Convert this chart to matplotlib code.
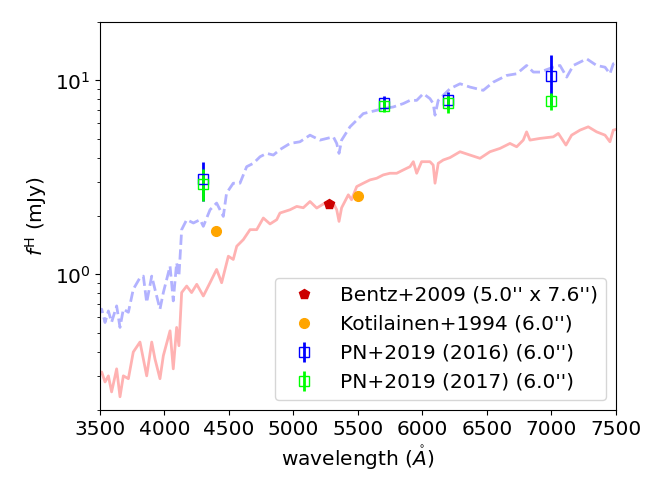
import matplotlib
matplotlib.use("Agg")
import matplotlib.pyplot as plt

# model spectrum, 6.0'' aperture (solid, light red)
red_wave = [3490, 3513, 3539, 3565, 3590, 3629, 3655, 3681, 3720, 3758, 3810, 3862, 3901, 3926,
            3965, 3991, 4043, 4068, 4094, 4112, 4133, 4172, 4210, 4250, 4301, 4353, 4404, 4443,
            4495, 4533, 4560, 4611, 4663, 4715, 4766, 4818, 4870, 4895, 4973, 5025, 5076, 5128,
            5180, 5244, 5309, 5335, 5353, 5373, 5425, 5450, 5490, 5541, 5593, 5645, 5696, 5748,
            5800, 5851, 5903, 5929, 5955, 5993, 6058, 6083, 6097, 6122, 6161, 6213, 6291, 6368,
            6446, 6523, 6601, 6678, 6730, 6781, 6807, 6833, 6911, 7014, 7053, 7112, 7156, 7221,
            7285, 7350, 7415, 7453, 7479, 7510]
red_flux = [0.30, 0.314, 0.279, 0.300, 0.248, 0.326, 0.234, 0.300, 0.290, 0.398, 0.448, 0.300,
            0.448, 0.367, 0.290, 0.381, 0.512, 0.326, 0.533, 0.429, 0.806, 0.871, 0.806, 0.889,
            0.774, 0.906, 1.061, 0.906, 1.241, 1.194, 1.397, 1.511, 1.701, 1.701, 1.953, 1.82,
            1.915, 2.072, 2.154, 2.241, 2.206, 2.376, 2.198, 2.332, 2.332, 2.154, 1.876, 2.206,
            2.572, 2.425, 2.836, 2.952, 3.070, 3.131, 3.258, 3.322, 3.322, 3.455, 3.592, 3.811,
            3.322, 3.811, 3.811, 3.66, 2.952, 3.738, 3.889, 4.00, 4.289, 4.124, 3.966, 4.289,
            4.462, 4.733, 4.549, 4.923, 5.430, 4.923, 5.024, 5.118, 5.330, 4.642, 5.222, 5.543,
            5.765, 5.430, 5.222, 4.827, 5.543, 5.606]

# second spectrum (dashed, light blue)
blue_wave = [3490, 3513, 3539, 3565, 3590, 3629, 3655, 3681, 3720, 3758, 3810, 3836, 3862, 3901,
             3926, 3965, 3991, 4043, 4068, 4094, 4112, 4133, 4172, 4224, 4276, 4301, 4353, 4404,
             4456, 4481, 4533, 4585, 4637, 4689, 4741, 4792, 4844, 4895, 4973, 5050, 5128, 5205,
             5309, 5335, 5353, 5373, 5438, 5490, 5541, 5593, 5645, 5696, 5773, 5851, 5903, 5955,
             6006, 6058, 6083, 6097, 6122, 6161, 6213, 6291, 6368, 6471, 6549, 6653, 6730, 6807,
             6859, 6911, 7014, 7066, 7118, 7169, 7273, 7350, 7415, 7453, 7479, 7510]
blue_flux = [0.62, 0.662, 0.565, 0.648, 0.567, 0.688, 0.533, 0.662, 0.638, 0.838, 0.962, 0.980,
             0.716, 0.980, 0.838, 0.662, 0.806, 1.103, 0.730, 1.148, 0.980, 1.701, 1.915, 1.841,
             1.915, 1.769, 2.154, 2.332, 1.991, 2.624, 2.952, 2.952, 3.592, 3.738, 4.043, 4.206,
             4.124, 4.40, 4.733, 4.827, 5.222, 4.923, 5.118, 4.733, 4.206, 4.923, 5.765, 6.236,
             6.745, 6.878, 7.015, 7.155, 7.296, 7.596, 7.891, 7.891, 8.547, 8.056, 7.596, 6.617,
             7.891, 8.375, 9.06, 9.61, 9.24, 8.89, 9.80, 10.61, 10.82, 11.94, 11.04, 11.04, 11.70,
             11.94, 10.40, 11.94, 12.92, 11.94, 11.70, 10.82, 12.18, 12.27]

# photometry
bentz_wave = [5278]
bentz_flux = [2.32]
kot_wave = [4400, 5500]
kot_flux = [1.67, 2.55]
pn16_wave = [4300, 5700, 6200, 7000]
pn16_flux = [3.10, 7.65, 7.89, 10.48]
pn16_err = [0.70, 0.70, 0.80, 3.00]
pn17_wave = [4300, 5700, 6200, 7000]
pn17_flux = [2.93, 7.41, 7.65, 7.83]
pn17_err = [0.55, 0.55, 0.85, 0.80]

fs = 14.5

fig = plt.figure(figsize=(6.64, 4.98), dpi=100)
ax = fig.add_axes([0.1506, 0.1767, 0.7771, 0.7791])

ax.plot(red_wave, red_flux, color='red', alpha=0.3, lw=2)
ax.plot(blue_wave, blue_flux, color='blue', alpha=0.3, lw=2, ls='--')

ax.plot(bentz_wave, bentz_flux, 'p', color='#cc0000', ms=7, label="Bentz+2009 (5.0'' x 7.6'')")
ax.plot(kot_wave, kot_flux, 'o', color='orange', ms=7, label="Kotilainen+1994 (6.0'')")
ax.errorbar(pn16_wave, pn16_flux, yerr=pn16_err, fmt='s', color='blue', mfc='none', ms=7,
            elinewidth=2, label="PN+2019 (2016) (6.0'')")
ax.errorbar(pn17_wave, pn17_flux, yerr=pn17_err, fmt='s', color='lime', mfc='none', ms=7,
            elinewidth=2, label="PN+2019 (2017) (6.0'')")

ax.set_yscale('log')
ax.set_xlim(3500, 7500)
ax.set_ylim(0.2, 20)
ax.set_xticks(range(3500, 7501, 500))
ax.tick_params(labelsize=fs)
ax.set_xlabel(r'wavelength ($\mathring{A}$)', fontsize=fs)
ax.set_ylabel(r'$f^{\rm H}$ (mJy)', fontsize=fs)
ax.legend(loc='lower right', fontsize=fs)

fig.savefig('out.png', dpi=100)
